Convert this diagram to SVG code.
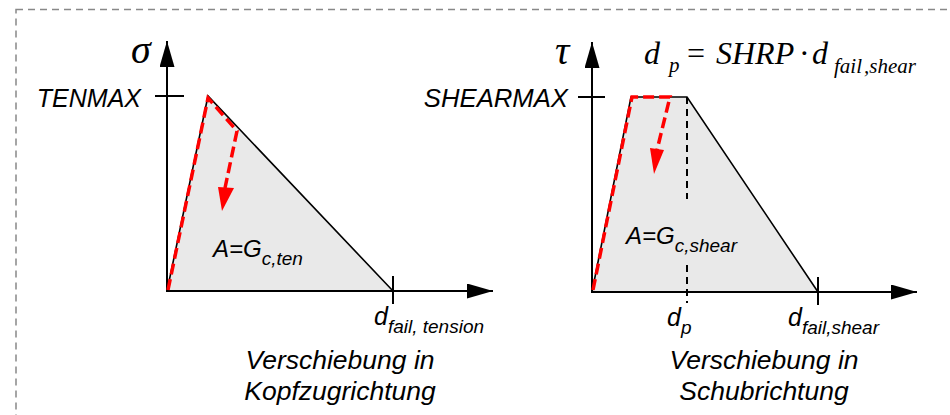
<svg xmlns="http://www.w3.org/2000/svg" width="950" height="415" viewBox="0 0 950 415">
<style>
.ax{stroke:#000;stroke-width:2;fill:none}
.edge{stroke:#000;stroke-width:1.6;fill:none}
.area{fill:#e9e9e9;stroke:none}
.red{stroke:#ff0000;stroke-width:3.5;fill:none;stroke-dasharray:11 5}
.redhead{fill:#ff0000}
.guide{stroke:#000;stroke-width:2;stroke-dasharray:7 5;fill:none}
.sans{font-family:"Liberation Sans",Arial,sans-serif;font-style:italic;fill:#000}
.serif{font-family:"Liberation Serif","Times New Roman",serif;font-style:italic;fill:#000}
</style>
<defs>
<marker id="arr" markerUnits="userSpaceOnUse" markerWidth="28" markerHeight="16" refX="26" refY="7.5" orient="auto">
<path d="M0,0 L26,7.5 L0,15 z" fill="#000"/>
</marker>
</defs>
<rect x="16" y="9.5" width="950" height="420" fill="none" stroke="#888" stroke-width="1.5" stroke-dasharray="7 5"/>

<g id="chart-tension">
<polygon class="area" points="167,291 208,96 393,291"/>
<polyline class="edge" points="167,291 208,96 393,291"/>
<line class="ax" x1="167" y1="291" x2="167" y2="41" marker-end="url(#arr)"/>
<line class="ax" x1="166" y1="291" x2="493" y2="291" marker-end="url(#arr)"/>
<line class="ax" x1="155" y1="96" x2="184" y2="96"/>
<line class="ax" x1="393" y1="276" x2="393" y2="304"/>
<polyline class="red" points="168,290 208,98 237,131 225,188"/>
<polygon class="redhead" points="218,187 234,188 222,211"/>
<text class="serif" x="131" y="63" font-size="40">σ</text>
<text class="sans" x="141" y="107" font-size="25" text-anchor="end">TENMAX</text>
<text class="sans" x="213" y="257" font-size="24">A=G<tspan font-size="19" dy="8">c,ten</tspan></text>
<text class="sans" x="374" y="325" font-size="25">d<tspan font-size="19" dy="8">fail, tension</tspan></text>
<text class="sans" x="340" y="369" font-size="26.5" text-anchor="middle">Verschiebung in</text>
<text class="sans" x="340" y="400" font-size="26.5" text-anchor="middle">Kopfzugrichtung</text>
</g>

<g id="chart-shear">
<polygon class="area" points="592,292 631,97 687,97 818,292"/>
<polyline class="edge" points="592,292 631,97 687,97 818,292"/>
<line class="guide" x1="687" y1="97" x2="687" y2="199"/>
<line class="guide" x1="687" y1="265" x2="687" y2="303"/>
<line class="ax" x1="592" y1="292" x2="592" y2="42" marker-end="url(#arr)"/>
<line class="ax" x1="591" y1="292" x2="917" y2="292" marker-end="url(#arr)"/>
<line class="ax" x1="578" y1="97" x2="605" y2="97"/>
<line class="ax" x1="818" y1="277" x2="818" y2="305"/>
<polyline class="red" points="593,290 632,97 670,97 657,150"/>
<polygon class="redhead" points="650,148 664,150 654,174"/>
<text class="serif" x="555" y="64" font-size="40">τ</text>
<text class="sans" x="568" y="107" font-size="25.7" text-anchor="end">SHEARMAX</text>
<text class="sans" x="626" y="244" font-size="24">A=G<tspan font-size="19" dy="8">c,shear</tspan></text>
<text class="sans" x="667" y="326" font-size="25">d<tspan font-size="19" dy="8">p</tspan></text>
<text class="sans" x="788" y="326" font-size="25">d<tspan font-size="19" dy="8">fail,shear</tspan></text>
<text class="sans" x="764" y="369" font-size="26.5" text-anchor="middle">Verschiebung in</text>
<text class="sans" x="764" y="400" font-size="26.5" text-anchor="middle">Schubrichtung</text>
<text class="serif" font-size="32"><tspan x="644" y="64">d</tspan><tspan x="669" y="72" font-size="21">p</tspan><tspan x="687" y="64" font-style="normal">=</tspan><tspan x="716" y="64">SHRP</tspan><tspan x="799" y="64" font-style="normal">·</tspan><tspan x="812" y="64">d</tspan><tspan x="834" y="73" font-size="21">fail</tspan><tspan dx="2" y="73" font-size="21">,shear</tspan></text>
</g>
</svg>
